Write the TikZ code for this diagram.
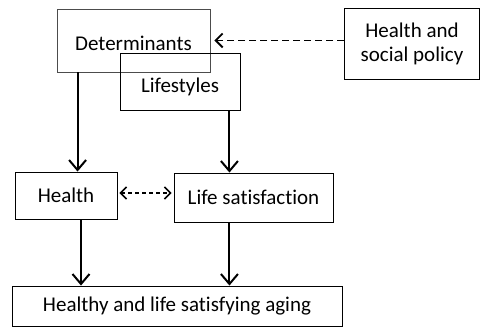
\documentclass[tikz,border=0pt]{standalone}
\usepackage{fontspec}
\setmainfont{Carlito}[Ligatures=NoCommon]
\usetikzlibrary{arrows.meta}
\begin{document}
\begin{tikzpicture}[x=1pt,y=-1pt,
  lbl/.style={font=\fontsize{21}{24}\selectfont},
  box/.style={draw,line width=0.9pt,inner sep=0pt,lbl,align=center},
  arr/.style={line width=2pt,-{Straight Barb[length=10pt,width=17pt,line width=2pt]}},
  darr/.style={line width=1.8pt,dash pattern=on 7pt off 4pt,-{Straight Barb[length=7pt,width=14pt,line width=1.8pt]}},
  dbl/.style={line width=1.6pt,dash pattern=on 4pt off 3pt,{Straight Barb[length=6pt,width=12pt,line width=1.6pt]}-{Straight Barb[length=6pt,width=12pt,line width=1.6pt]}}]
\useasboundingbox (0,0) rectangle (480,328);
\node[box,draw=black!70,minimum width=153pt,minimum height=63pt] (det) at (133.5,40.5) {};
\node[lbl] (dett) at (133.5,43) {Determinants};
\node[box,minimum width=120pt,minimum height=57pt] (life) at (180,81.5) {};
\node[lbl] (lifet) at (180,87) {Lifestyles};
\node[box,minimum width=135pt,minimum height=71pt] (pol) at (412,43.5) {Health and\\social policy};
\node[box,minimum width=102pt,minimum height=47pt] (hea) at (66,195.5) {Health};
\node[box,minimum width=159pt,minimum height=49pt] (ls) at (253.5,197.5) {Life satisfaction};
\node[box,minimum width=330pt,minimum height=40pt] (age) at (177,306) {Healthy and life satisfying aging};
\draw[darr,shorten >=4pt] (pol.west |- det.east) -- (det.east);
\draw[arr] ([xshift=21pt]det.south west) -- ([xshift=21pt]det.south west |- hea.north);
\draw[arr] ([xshift=-11pt]life.south east) -- ([xshift=-11pt]life.south east |- ls.north);
\draw[arr] ([xshift=15pt]hea.south) -- ([xshift=15pt]hea.south |- age.north);
\draw[arr] ([xshift=-11pt]life.south east |- ls.south) -- ([xshift=-11pt]life.south east |- age.north);
\draw[dbl,shorten <=2pt,shorten >=2pt] (hea.east |- 0,193) -- (ls.west |- 0,193);
\end{tikzpicture}
\end{document}
